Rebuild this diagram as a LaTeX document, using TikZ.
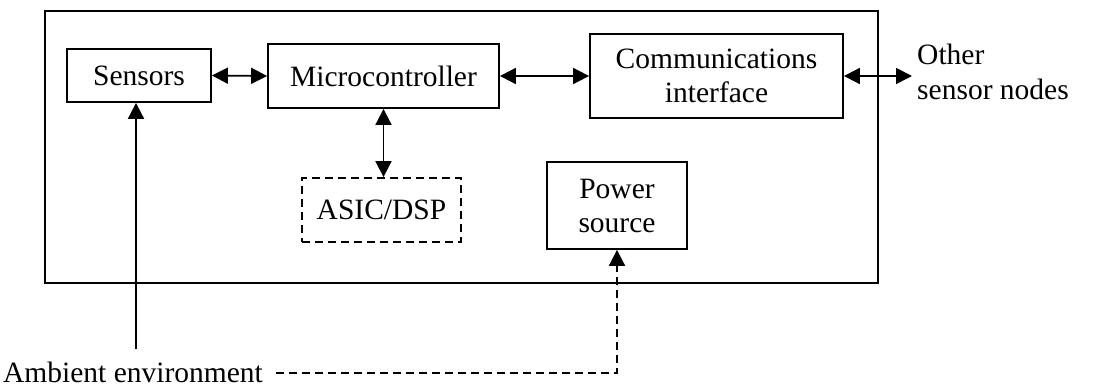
\documentclass[tikz,border=0pt]{standalone}
\usepackage{fontspec}
\setmainfont{Liberation Serif}
\usetikzlibrary{arrows.meta}
\begin{document}
\begin{tikzpicture}[x=1pt,y=-1pt,
  box/.style={draw,line width=1.8pt,minimum width=#1,inner sep=0pt,align=center,font=\fontsize{29.5}{34}\selectfont},
  arr/.style={line width=1.8pt,{Triangle[length=16pt,width=16pt]}-{Triangle[length=16pt,width=16pt]}},
  sarr/.style={line width=1.8pt,-{Triangle[length=16pt,width=16pt]}},
  dsh/.style={dash pattern=on 8pt off 5pt},
  lbl/.style={font=\fontsize{29.5}{35}\selectfont,align=left,inner sep=0pt}]
\useasboundingbox (0,0) rectangle (1113,390);
\node[draw,line width=1.8pt,minimum width=833pt,minimum height=272pt,inner sep=0pt] (outer) at (461.5,147) {};
\node[box=144pt,minimum height=53pt] (sen) at (139,75.5) {Sensors};
\node[box=231pt,minimum height=64pt] (mic) at (383.5,76) {Microcontroller};
\node[box=253pt,minimum height=84pt] (com) at (716.5,76) {Communications\\interface};
\node[box=159pt,minimum height=64pt,dsh] (asic) at (381.5,210) {ASIC/DSP};
\node[box=140pt,minimum height=87pt] (pow) at (617,205.5) {Power\\source};
\node[lbl,anchor=west] (oth) at (917,72) {Other\\sensor nodes};
\node[lbl,anchor=west] (amb) at (3,372) {Ambient environment};
\coordinate (oe) at (912,76);
\coordinate (s0) at (136,349);
\coordinate (p0) at (617,373);
\coordinate (a0) at (276,373);
\draw[arr] (sen.east) -- (mic.west);
\draw[arr] (mic.east) -- (com.west);
\draw[arr] (com.east) -- (oe);
\draw[arr] (mic.south) -- (mic.south |- asic.north);
\draw[sarr] (s0) -- (s0 |- sen.south);
\draw[line width=1.8pt,dsh,-{Triangle[length=16pt,width=16pt]}] (a0) -- (p0) -- (pow.south);
\end{tikzpicture}
\end{document}
